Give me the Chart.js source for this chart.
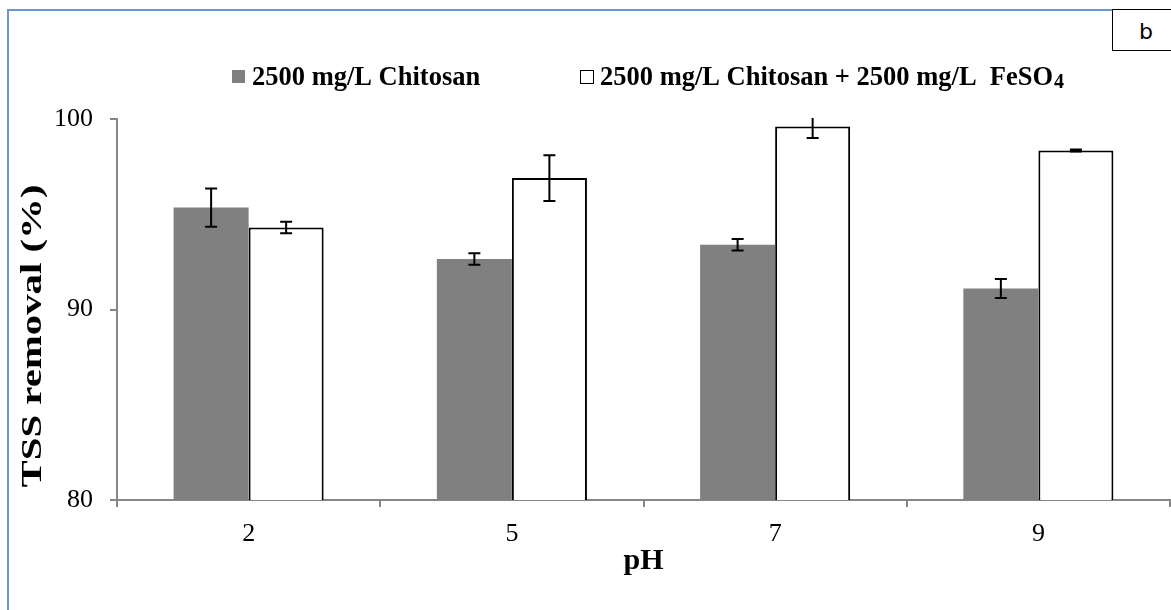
<!DOCTYPE html>
<html>
<head>
<meta charset="utf-8">
<script src="https://cdn.jsdelivr.net/npm/chart.js@4.4.0/dist/chart.umd.min.js"></script>
<style>
    body { margin: 0; background: #fff; }
    #moldura { position: absolute; left: 7px; top: 9px; width: 1300px; height: 700px;
        border-left: 2px solid #6b96cf; border-top: 2px solid #6b96cf; }
    #caixa { position: relative; width: 1171px; height: 610px; }
    #rotulo { position: absolute; left: 1112px; top: 9px; width: 80px; height: 40px;
        border: 1px solid #000; background: #fff; font: 22px "DejaVu Sans", sans-serif;
        line-height: 44px; text-indent: 26px; }
</style>
</head>
<body>
<div id="moldura"></div>
<div id="caixa"><canvas id="grafico"></canvas></div>
<div id="rotulo">b</div>
<script>
// valores
const valoresPH = ['2', '5', '7', '9'];
const rotulosSeries = ['2500 mg/L Chitosan', '2500 mg/L Chitosan + 2500 mg/L  FeSO₄'];
const quitosana = [95.35, 92.65, 93.4, 91.1];
const quitosanaErro = [1.0, 0.3, 0.3, 0.5];
const quitosanaFe = [94.3, 96.9, 99.6, 98.35];
const quitosanaFeErro = [0.3, 1.2, 0.6, 0.05];
const ticksY = [80, 90, 100];

const fonteSerif = '"Liberation Serif", "Times New Roman", serif';
const cinzaEixo = '#868686';

// barras de erro desenhadas a partir das escalas
const pluginErro = {
    id: 'barrasErro',
    afterDatasetsDraw(chart) {
        const ctx = chart.ctx;
        const y = chart.scales.y;
        const area = chart.chartArea;
        ctx.save();
        ctx.beginPath();
        ctx.rect(area.left, area.top - 1, area.right - area.left, area.bottom - area.top + 1);
        ctx.clip();
        ctx.strokeStyle = '#000';
        ctx.lineWidth = 2;
        chart.data.datasets.forEach((ds, i) => {
            const meta = chart.getDatasetMeta(i);
            meta.data.forEach((barra, j) => {
                const v = ds.data[j];
                const e = ds.erros[j];
                const yAlto = y.getPixelForValue(v + e);
                const yBaixo = y.getPixelForValue(v - e);
                const x = barra.x;
                ctx.beginPath();
                ctx.moveTo(x, yAlto); ctx.lineTo(x, yBaixo);
                ctx.moveTo(x - 6, yAlto); ctx.lineTo(x + 6, yAlto);
                ctx.moveTo(x - 6, yBaixo); ctx.lineTo(x + 6, yBaixo);
                ctx.stroke();
            });
        });
        ctx.restore();
    }
};

// legenda e título do eixo y desenhados à mão
const pluginTextos = {
    id: 'textos',
    afterDraw(chart) {
        const ctx = chart.ctx;
        ctx.save();
        // legenda
        const posicoes = [232, 580];
        ctx.textBaseline = 'alphabetic';
        chart.data.datasets.forEach((ds, i) => {
            const x = posicoes[i];
            if (i === 0) {
                ctx.fillStyle = ds.backgroundColor;
                ctx.fillRect(x, 70, 13, 13);
            } else {
                ctx.strokeStyle = '#000';
                ctx.lineWidth = 1;
                ctx.strokeRect(x + 0.5, 70.5, 13, 13);
            }
            ctx.fillStyle = '#000';
            let texto = rotulosSeries[i];
            let sub = '';
            if (texto.endsWith('₄')) { texto = texto.slice(0, -1); sub = '4'; }
            ctx.font = 'bold 26.5px ' + fonteSerif;
            ctx.fillText(texto, x + 20, 85);
            if (sub) {
                const w = ctx.measureText(texto).width;
                ctx.font = 'bold 20px ' + fonteSerif;
                ctx.fillText(sub, x + 20 + w + 1, 88);
            }
        });
        // título do eixo y
        ctx.font = 'bold 30px ' + fonteSerif;
        ctx.fillStyle = '#000';
        const titulo = 'TSS removal (%)';
        const largura = ctx.measureText(titulo).width;
        const esticar = 303 / largura;
        ctx.translate(33, 336);
        ctx.rotate(-Math.PI / 2);
        ctx.scale(esticar, 1);
        ctx.textAlign = 'center';
        ctx.textBaseline = 'middle';
        ctx.fillText(titulo, 0, 0);
        ctx.restore();
    }
};

const contexto = document.getElementById('grafico').getContext('2d');
new Chart(contexto, {
    type: 'bar',
    data: {
        labels: valoresPH,
        datasets: [
            {
                label: rotulosSeries[0],
                data: quitosana,
                erros: quitosanaErro,
                backgroundColor: '#808080',
                borderWidth: 0
            },
            {
                label: rotulosSeries[1],
                data: quitosanaFe,
                erros: quitosanaFeErro,
                backgroundColor: '#ffffff',
                borderColor: '#000000',
                borderWidth: 2
            }
        ]
    },
    options: {
        responsive: true,
        maintainAspectRatio: false,
        animation: false,
        layout: { padding: { top: 119, right: 1, left: 0, bottom: 0 } },
        datasets: { bar: { categoryPercentage: 0.57, barPercentage: 1 } },
        plugins: { legend: { display: false }, tooltip: { enabled: false } },
        scales: {
            x: {
                grid: { drawOnChartArea: false, tickLength: 7, color: cinzaEixo, lineWidth: 2 },
                border: { color: cinzaEixo, width: 2 },
                ticks: { font: { family: fonteSerif, size: 26 }, color: '#000', padding: 12 },
                title: { display: true, text: 'pH', color: '#000',
                    font: { family: fonteSerif, size: 30, weight: 'bold' }, padding: { top: 0, bottom: 31 } },
                afterFit: (escala) => { escala.height = 110; }
            },
            y: {
                min: 80,
                max: 100,
                afterBuildTicks: (escala) => { escala.ticks = ticksY.map(v => ({ value: v })); },
                grid: { drawOnChartArea: false, tickLength: 7, color: cinzaEixo, lineWidth: 2 },
                border: { color: cinzaEixo, width: 2 },
                ticks: { font: { family: fonteSerif, size: 26 }, color: '#000', padding: 17 },
                afterFit: (escala) => { escala.width = 117; }
            }
        }
    },
    plugins: [pluginErro, pluginTextos]
});
</script>
</body>
</html>
